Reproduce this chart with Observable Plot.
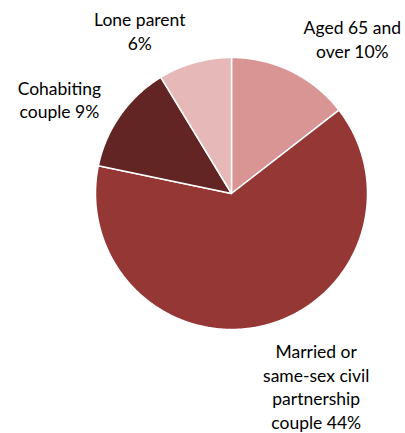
<!DOCTYPE html>
<html><head><meta charset="utf-8">
<script src="https://cdn.jsdelivr.net/npm/d3@7"></script>
<script src="https://cdn.jsdelivr.net/npm/@observablehq/plot@0.6"></script>
<style>body{margin:0;background:#fff}</style>
</head><body><div id="chart"></div>
<script>
const categories = ["Aged 65 and over", "Married or same-sex civil partnership couple", "Cohabiting couple", "Lone parent"];
const labels = ["Aged 65 and\nover 10%", "Married or\nsame-sex civil\npartnership\ncouple 44%", "Cohabiting\ncouple 9%", "Lone parent\n6%"];
const values = [10, 44, 9, 6];
const colors = ["#d99594", "#953735", "#632523", "#e6b9b8"];
// label offsets in px from slice edge midpoint (styling)
const labelDx = [61, 54, -61, -55];
const labelDy = [-33, 60, -16, -32];

const W = 405, H = 433, R = 136, CX = 231, CY = 193;
const rows = categories.map((c, i) => ({cat: c, value: values[i], label: labels[i]}));
const arcs = d3.pie().sort(null).value(d => d.value)(rows);

const pts = [];
arcs.forEach(a => {
  pts.push({cat: a.data.cat, x: 0, y: 0});
  const n = Math.max(2, Math.ceil((a.endAngle - a.startAngle) / (Math.PI / 360)));
  for (let k = 0; k <= n; k++) {
    const t = a.startAngle + (a.endAngle - a.startAngle) * k / n;
    pts.push({cat: a.data.cat, x: Math.sin(t), y: Math.cos(t)});
  }
});
const labelPts = arcs.map((a, i) => {
  const m = (a.startAngle + a.endAngle) / 2;
  return {label: a.data.label, x: Math.sin(m), y: Math.cos(m), i};
});

const textMarks = labelPts.map(d => Plot.text([d], {
  x: "x", y: "y", text: "label", dx: labelDx[d.i], dy: labelDy[d.i],
  textAnchor: "middle", lineAnchor: "middle", lineHeight: 1.34,
  fontSize: 17.5, fill: "#000", fontFamily: "Lato, 'Open Sans', sans-serif"
}));

const chart = Plot.plot({
  width: W, height: H,
  margin: 0,
  x: {domain: [-CX / R, (W - CX) / R], range: [0, W], axis: null},
  y: {domain: [-(H - CY) / R, CY / R], range: [H, 0], axis: null},
  color: {domain: categories, range: colors},
  marks: [
    Plot.line(pts, {x: "x", y: "y", z: "cat", fill: "cat", stroke: "#fff", strokeWidth: 1.5, curve: "linear-closed", strokeLinejoin: "round"}),
    ...textMarks
  ]
});
document.getElementById("chart").appendChild(chart);
</script>
</body></html>
